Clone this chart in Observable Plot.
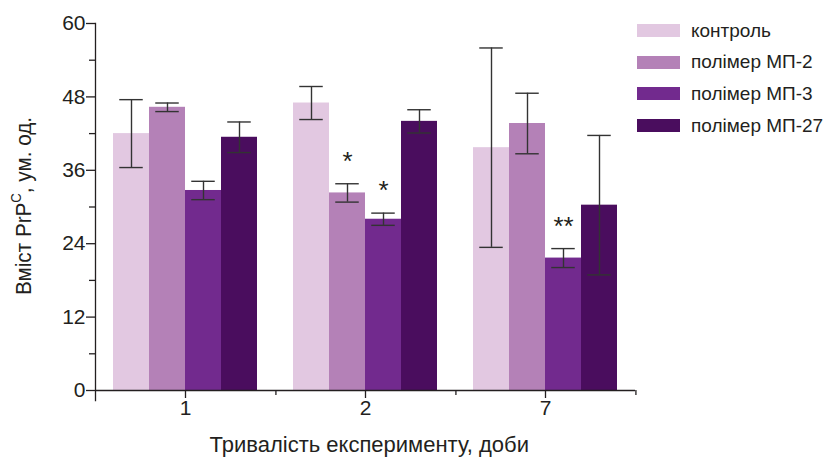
<!DOCTYPE html>
<html>
<head>
<meta charset="utf-8">
<script src="https://cdn.jsdelivr.net/npm/d3@7"></script>
<script src="https://cdn.jsdelivr.net/npm/@observablehq/plot@0.6"></script>
<style>
  html, body { margin: 0; padding: 0; background: #fff; }
  #wrap { position: relative; width: 826px; height: 457px; font-family: "Liberation Sans", Arial, sans-serif; color: #231f20; }
  #legend { position: absolute; left: 637px; top: 15px; }
  .row { display: flex; align-items: center; height: 31.6px; font-size: 19px; white-space: nowrap; }
  .sw { width: 43px; height: 13px; margin-right: 11px; }
</style>
</head>
<body>
<div id="wrap"><div id="legend"></div></div>
<script>
// ---- data ----
const days = ["1", "2", "7"];
const series = ["контроль", "полімер МП-2", "полімер МП-3", "полімер МП-27"];
const colors = ["#E2C8E1", "#B481B7", "#722A8E", "#4A0D5E"];

const meanControl = [42.0, 47.0, 39.7];
const meanMP2     = [46.3, 32.3, 43.65];
const meanMP3     = [32.7, 28.0, 21.65];
const meanMP27    = [41.4, 44.0, 30.3];

const sdControl = [5.55, 2.7, 16.3];
const sdMP2     = [0.7, 1.5, 4.95];
const sdMP3     = [1.5, 1.0, 1.55];
const sdMP27    = [2.5, 1.9, 11.4];

const sigControl = ["", "", ""];
const sigMP2     = ["", "*", ""];
const sigMP3     = ["", "*", "**"];
const sigMP27    = ["", "", ""];

const yTicks = [0, 12, 24, 36, 48, 60];
const yMinorTicks = [6, 18, 30, 42, 54];

const xTitle = "Тривалість експерименту, доби";
const yTitleMain = "Вміст PrP";
const yTitleSup = "C";
const yTitleRest = ", ум. од.";

// ---- table ----
const means = [meanControl, meanMP2, meanMP3, meanMP27];
const sds = [sdControl, sdMP2, sdMP3, sdMP27];
const sigs = [sigControl, sigMP2, sigMP3, sigMP27];
const rows = [];
days.forEach((day, i) => series.forEach((s, j) => {
  rows.push({day, series: s, mean: means[j][i], lo: means[j][i] - sds[j][i], hi: means[j][i] + sds[j][i], sig: sigs[j][i]});
}));

const W = 826, H = 457, mL = 94, mR = 189.5, mT = 23, mB = 67;
const band = (W - mL - mR) / days.length;
const ink = "#231f20";

const chart = Plot.plot({
  width: W, height: H,
  marginLeft: mL, marginRight: mR, marginTop: mT, marginBottom: mB,
  style: {fontFamily: '"Liberation Sans", Arial, sans-serif', fontSize: "20px", color: ink, background: "transparent"},
  fx: {domain: days, padding: 0, axis: null},
  x: {domain: series, paddingInner: 0, paddingOuter: 0.477, axis: null},
  y: {domain: [0, 60], axis: null},
  color: {domain: series, range: colors},
  marks: [
    Plot.barY(rows, {fx: "day", x: "series", y: "mean", fill: "series"}),
    Plot.ruleX(rows, {fx: "day", x: "series", y1: "lo", y2: "hi", stroke: "#333", strokeWidth: 1.4}),
    Plot.tickY(rows, {fx: "day", x: "series", y: "hi", stroke: "#333", strokeWidth: 1.4, insetLeft: 6.25, insetRight: 6.25}),
    Plot.tickY(rows, {fx: "day", x: "series", y: "lo", stroke: "#333", strokeWidth: 1.4, insetLeft: 6.25, insetRight: 6.25}),
    Plot.text(rows.filter(d => d.sig), {fx: "day", x: "series", y: "hi", text: "sig", lineAnchor: "bottom", dy: -14, fontSize: 26, fill: ink}),
    Plot.ruleY([0], {stroke: ink, strokeWidth: 1.3}),
    Plot.frame({anchor: "left", facetAnchor: "left", stroke: ink, strokeWidth: 1.3, insetBottom: -10}),
    Plot.axisY({ticks: yTicks, tickSize: 9, tickPadding: 1, fontSize: 21, stroke: ink, strokeWidth: 1.3, label: null}),
    Plot.axisY({ticks: yMinorTicks, tickSize: 6, tickFormat: () => "", stroke: ink, strokeWidth: 1.3, label: null}),
    Plot.axisFx({anchor: "bottom", tickSize: 8, tickPadding: 2, fontSize: 21, stroke: ink, strokeWidth: 1.3, label: null}),
    Plot.axisFx({anchor: "bottom", tickSize: 5, tickFormat: () => "", dx: band / 2, stroke: ink, strokeWidth: 1.3, label: null})
  ]
});

const svg = d3.select(chart);
// y-axis title with superscript
const yt = svg.append("text")
  .attr("transform", `translate(30.5,206) rotate(-90)`)
  .attr("text-anchor", "middle")
  .attr("font-size", 22)
  .attr("textLength", 178)
  .attr("lengthAdjust", "spacingAndGlyphs")
  .attr("fill", ink);
yt.append("tspan").text(yTitleMain);
yt.append("tspan").attr("font-size", 14).attr("dy", -10).text(yTitleSup);
yt.append("tspan").attr("dy", 10).text(yTitleRest);
// x-axis title
svg.append("text")
  .attr("x", mL + (W - mL - mR) / 2 + 4)
  .attr("y", 451.5)
  .attr("text-anchor", "middle")
  .attr("font-size", 22)
  .attr("fill", ink)
  .text(xTitle);

const wrap = document.getElementById("wrap");
wrap.insertBefore(chart, wrap.firstChild);

const legend = d3.select("#legend");
series.forEach((s, j) => {
  const r = legend.append("div").attr("class", "row");
  r.append("div").attr("class", "sw").style("background", colors[j]);
  r.append("span").text(s);
});
</script>
</body>
</html>
